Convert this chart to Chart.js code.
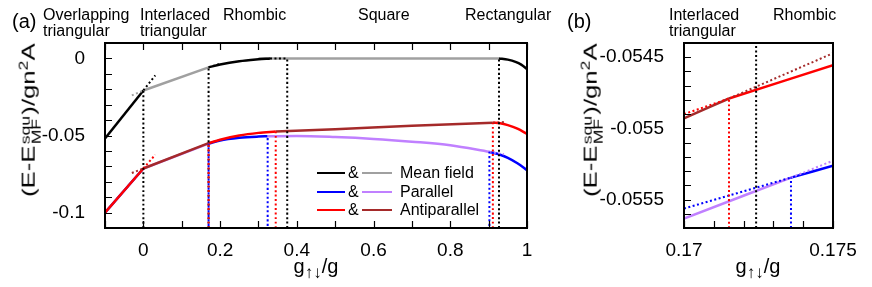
<!DOCTYPE html>
<html>
<head>
<meta charset="utf-8">
<script src="https://cdn.jsdelivr.net/npm/chart.js@4.4.1/dist/chart.umd.min.js"></script>
<style>
  body { margin: 0; background: #fff; }
  #fig { position: relative; width: 872px; height: 287px; overflow: hidden;
         font-family: 'Liberation Sans', Arial, sans-serif; color: #000; }
  #fig canvas { position: absolute; top: 0; }
  .t { position: absolute; font-size: 16px; line-height: 16px; white-space: nowrap; }
  .pl { position: absolute; font-size: 20px; line-height: 20px; }
  .ytl { position: absolute; font-size: 19px; line-height: 20px; white-space: nowrap; }
  .stk { display: inline-flex; flex-direction: column; font-size: 13px; line-height: 11px;
         vertical-align: 5px; margin: 0 1px; }
  .ytl sup { font-size: 13px; }
  .xtl { position: absolute; font-size: 20px; line-height: 20px; white-space: nowrap; transform: translateX(-50%); }
  .xtl sub { font-size: 17px; vertical-align: -5px; }
  .lg { position: absolute; height: 0; border-top: 2.5px solid; }
</style>
</head>
<body>
<div id="fig">
  <canvas id="chartA" width="545" height="287" style="left:0"></canvas>
  <canvas id="chartB" width="312" height="287" style="left:560px"></canvas>

  <div class="pl" style="left:12px;top:11px">(a)</div>
  <div class="t" style="left:43px;top:7px">Overlapping<br>triangular</div>
  <div class="t" style="left:140px;top:7px">Interlaced<br>triangular</div>
  <div class="t" style="left:223px;top:7px">Rhombic</div>
  <div class="t" style="left:358px;top:7px">Square</div>
  <div class="t" style="left:465px;top:7px">Rectangular</div>

  <div class="pl" style="left:567px;top:11px">(b)</div>
  <div class="t" style="left:669px;top:7px">Interlaced<br>triangular</div>
  <div class="t" style="left:773px;top:7px">Rhombic</div>

  <div class="ytl" data-cx="28" data-cy="120">(E-E<span class="stk"><span>squ</span><span>MF</span></span>)/gn<sup>2</sup>A</div>
  <div class="ytl" data-cx="590" data-cy="120">(E-E<span class="stk"><span>squ</span><span>MF</span></span>)/gn<sup>2</sup>A</div>

  <div class="xtl" style="left:316px;top:256px">g<sub>↑↓</sub>/g</div>
  <div class="xtl" style="left:758px;top:256px">g<sub>↑↓</sub>/g</div>

  <!-- legend -->
  <div class="lg" style="left:317px;top:172px;width:28px;border-color:#000"></div>
  <div class="t" style="left:348px;top:165px">&amp;</div>
  <div class="lg" style="left:362px;top:172px;width:30px;border-color:#a0a0a0"></div>
  <div class="t" style="left:400px;top:165px">Mean field</div>

  <div class="lg" style="left:317px;top:191px;width:28px;border-color:#0000ff"></div>
  <div class="t" style="left:348px;top:184px">&amp;</div>
  <div class="lg" style="left:362px;top:191px;width:30px;border-color:#c080ff"></div>
  <div class="t" style="left:400px;top:184px">Parallel</div>

  <div class="lg" style="left:317px;top:209px;width:28px;border-color:#ff0000"></div>
  <div class="t" style="left:348px;top:202px">&amp;</div>
  <div class="lg" style="left:362px;top:209px;width:30px;border-color:#a52a2a"></div>
  <div class="t" style="left:400px;top:202px">Antiparallel</div>
</div>

<script>
// ── tick labels ──
const xLabelsA = [0, 0.2, 0.4, 0.6, 0.8, 1];
const yLabelsA = [0, -0.05, -0.1];
const xLabelsB = [0.17, 0.175];
const yLabelsB = [-0.0545, -0.055, -0.0555];

// ── panel (a): mean field ──
const mfLowX = [-0.1, 0],                    mfLowY = [-0.052, -0.0208];
const mfMidX = [0, 0.17],                    mfMidY = [-0.0208, -0.0058];
const mfCurveX = [0.17, 0.2, 0.25, 0.3, 0.33], mfCurveY = [-0.0058, -0.0040, -0.0019, -0.0006, 0];
const mfFlatX = [0.3, 0.927],                mfFlatY = [0, 0];
const mfEndX = [0.927, 0.95, 0.97, 0.985, 1.0], mfEndY = [0, -0.0008, -0.0022, -0.0040, -0.0068];

// ── panel (a): parallel ──
const parLowX = [-0.1, 0],                   parLowY = [-0.1, -0.0714];
const parMidX = [0, 0.17],                   parMidY = [-0.0714, -0.0553];
const parCurveX = [0.17, 0.2, 0.25, 0.3, 0.324], parCurveY = [-0.0553, -0.0532, -0.0515, -0.0507, -0.0505];
const parFlatX = [0.324, 0.4, 0.5, 0.6, 0.7, 0.8, 0.902];
const parFlatY = [-0.0505, -0.0503, -0.0510, -0.0522, -0.0540, -0.0563, -0.0606];
const parEndX = [0.902, 0.93, 0.95, 0.975, 1.0], parEndY = [-0.0606, -0.0625, -0.0645, -0.0680, -0.0725];

// ── panel (a): antiparallel ──
const antLowX = [-0.1, 0],                   antLowY = [-0.1, -0.0714];
const antMidX = [0, 0.17],                   antMidY = [-0.0714, -0.0550];
const antCurveX = [0.17, 0.2, 0.25, 0.3, 0.345], antCurveY = [-0.0550, -0.0528, -0.0500, -0.0483, -0.0474];
const antFlatX = [0.345, 0.5, 0.7, 0.911],   antFlatY = [-0.0474, -0.0459, -0.0437, -0.0417];
const antEndX = [0.911, 0.93, 0.95, 0.975, 1.0], antEndY = [-0.0417, -0.0421, -0.0433, -0.0456, -0.0490];

// ── panel (a): dotted continuations ──
const extBlk1X = [0, 0.031],      extBlk1Y = [-0.0208, -0.011];
const extBlk2X = [0.17, 0.2],     extBlk2Y = [-0.0058, -0.0035];
const extBlk3X = [0.33, 0.375],   extBlk3Y = [0, 0];
const extGryX = [-0.03, 0],       extGryY = [-0.024, -0.0208];
const extRedX = [0, 0.031],       extRedY = [-0.0714, -0.0625];
const extBrn1X = [-0.03, 0],      extBrn1Y = [-0.0743, -0.0714];
const extBrn2X = [0.911, 0.945],  extBrn2Y = [-0.0417, -0.0412];
const extPurX = [0.902, 0.94],    extPurY = [-0.0606, -0.0622];

// ── panel (a): transition markers (x, top y) ──
const vBlackAX = [0, 0.17, 0.375, 0.927], vBlackAY = [-0.0208, -0.0058, 0, 0];
const vBlueAX = [0.17, 0.324, 0.902],     vBlueAY = [-0.0553, -0.0505, -0.0606];
const vRedAX = [0.17, 0.345, 0.911],      vRedAY = [-0.0550, -0.0474, -0.0417];

// ── panel (b): zoom near g = 0.17 ──
const bBrnX = [0.17, 0.17151],     bBrnY = [-0.05493, -0.05479];
const bRedX = [0.17151, 0.175],    bRedY = [-0.05479, -0.054556];
const bRedDX = [0.17, 0.17151],    bRedDY = [-0.0549, -0.05479];
const bBrnDX = [0.17151, 0.175],   bBrnDY = [-0.05479, -0.054472];
const bPurX = [0.17, 0.17359],     bPurY = [-0.055633, -0.055346];
const bBluX = [0.17359, 0.175],    bBluY = [-0.055346, -0.055262];
const bBluDX = [0.17, 0.17359],    bBluDY = [-0.055563, -0.055346];
const bPurDX = [0.17359, 0.175],   bPurDY = [-0.055346, -0.055227];
const vBlackBX = [0.17242],        vBlackBY = [-0.0544];
const vBlueBX = [0.17359],         vBlueBY = [-0.055346];
const vRedBX = [0.17151],          vRedBY = [-0.05479];

const C = { black: '#000000', gray: '#a0a0a0', blue: '#0000ff', purple: '#c080ff', red: '#ff0000', brown: '#a52a2a' };
const FONT = "'Liberation Sans', Arial, sans-serif";

function line(xs, ys, color, dotted, offset) {
    return {
        data: xs.map((x, i) => ({ x: x, y: ys[i] })),
        borderColor: color,
        borderWidth: dotted ? 2 : 2.5,
        borderDash: dotted ? [2, 2.5] : [],
        borderDashOffset: offset || 0,
        pointRadius: 0,
        fill: false,
        cubicInterpolationMode: 'monotone'
    };
}

function vlines(xs, tops, bottom, color, offset) {
    return xs.map((x, i) => line([x, x], [bottom, tops[i]], color, true, offset));
}

function labeler(list) {
    return function (v) {
        const hit = list.find(l => Math.abs(l - v) < 1e-9);
        return hit === undefined ? '' : String(hit);
    };
}

// inward ticks + box, gnuplot style
const framePlugin = {
    id: 'frame',
    afterDatasetsDraw(chart, args, opts) {
        const { ctx, chartArea: a, scales: { x, y } } = chart;
        ctx.save();
        ctx.strokeStyle = '#000';
        ctx.lineWidth = 1.2;
        ctx.beginPath();
        x.ticks.forEach(t => {
            const px = Math.round(x.getPixelForValue(t.value)) + 0.5;
            ctx.moveTo(px, a.bottom); ctx.lineTo(px, a.bottom - 7);
            if (opts.top) { ctx.moveTo(px, a.top); ctx.lineTo(px, a.top + 7); }
        });
        y.ticks.forEach(t => {
            const py = Math.round(y.getPixelForValue(t.value)) + 0.5;
            ctx.moveTo(a.left, py); ctx.lineTo(a.left + 7, py);
        });
        ctx.stroke();
        ctx.lineWidth = 2;
        ctx.strokeRect(a.left, a.top, a.right - a.left, a.bottom - a.top);
        ctx.restore();
    }
};

function makeChart(id, datasets, sx, sy, yWidth, padRight, topTicks) {
    return new Chart(document.getElementById(id), {
        type: 'line',
        data: { datasets: datasets.reverse() },
        plugins: [framePlugin],
        options: {
            responsive: false,
            animation: false,
            devicePixelRatio: 1,
            events: [],
            layout: { padding: { left: 0, top: 43, right: padRight, bottom: 0 } },
            scales: {
                x: {
                    type: 'linear', min: sx.min, max: sx.max,
                    grid: { display: false }, border: { display: false },
                    afterFit: s => { s.height = 59; },
                    ticks: { stepSize: sx.step, autoSkip: false, maxRotation: 0, padding: 3,
                             color: '#000', font: { family: FONT, size: 19 }, callback: labeler(sx.labels) }
                },
                y: {
                    type: 'linear', min: sy.min, max: sy.max,
                    grid: { display: false }, border: { display: false },
                    afterFit: s => { s.width = yWidth; },
                    ticks: { stepSize: sy.step, autoSkip: false, padding: 12,
                             color: '#000', font: { family: FONT, size: 19 }, callback: labeler(sy.labels) }
                }
            },
            plugins: { legend: { display: false }, tooltip: { enabled: false }, frame: { top: topTicks } }
        }
    });
}

// back-to-front
const yMinA = -0.11;
const dsA = [
    line(parLowX, parLowY, C.blue), line(parMidX, parMidY, C.purple),
    line(parCurveX, parCurveY, C.blue), line(parFlatX, parFlatY, C.purple), line(parEndX, parEndY, C.blue),
    line(antLowX, antLowY, C.red), line(antMidX, antMidY, C.brown),
    line(antCurveX, antCurveY, C.red), line(antFlatX, antFlatY, C.brown), line(antEndX, antEndY, C.red),
    line(mfLowX, mfLowY, C.black), line(mfMidX, mfMidY, C.gray),
    line(mfFlatX, mfFlatY, C.gray), line(mfCurveX, mfCurveY, C.black), line(mfEndX, mfEndY, C.black),
    line(extBlk1X, extBlk1Y, C.black, true), line(extBlk2X, extBlk2Y, C.black, true),
    line(extBlk3X, extBlk3Y, C.black, true), line(extGryX, extGryY, C.gray, true),
    line(extRedX, extRedY, C.red, true), line(extBrn1X, extBrn1Y, C.brown, true),
    line(extBrn2X, extBrn2Y, C.brown, true), line(extPurX, extPurY, C.purple, true),
    ...vlines(vBlackAX, vBlackAY, yMinA, C.black),
    ...vlines(vRedAX, vRedAY, yMinA, C.red),
    ...vlines(vBlueAX, vBlueAY, yMinA, C.blue, 2.25)
];

const yMinB = -0.0557;
const dsB = [
    line(bPurX, bPurY, C.purple), line(bBluX, bBluY, C.blue),
    line(bBluDX, bBluDY, C.blue, true), line(bPurDX, bPurDY, C.purple, true),
    line(bBrnX, bBrnY, C.brown), line(bRedX, bRedY, C.red),
    line(bRedDX, bRedDY, C.red, true), line(bBrnDX, bBrnDY, C.brown, true),
    ...vlines(vBlackBX, vBlackBY, yMinB, C.black),
    ...vlines(vBlueBX, vBlueBY, yMinB, C.blue),
    ...vlines(vRedBX, vRedBY, yMinB, C.red)
];

makeChart('chartA', dsA,
    { min: -0.1, max: 1, step: 0.1, labels: xLabelsA },
    { min: yMinA, max: 0.01, step: 0.01, labels: yLabelsA },
    105, 18, true);

makeChart('chartB', dsB,
    { min: 0.17, max: 0.175, step: 0.001, labels: xLabelsB },
    { min: yMinB, max: -0.0544, step: 0.0001, labels: yLabelsB },
    124, 39, false);

// rotated y titles, stretched along the text to the reference length
document.querySelectorAll('.ytl').forEach(el => {
    const w = el.offsetWidth, h = el.offsetHeight;
    const k = 154 / w;
    el.style.left = (+el.dataset.cx - w / 2) + 'px';
    el.style.top = (+el.dataset.cy - h / 2) + 'px';
    el.style.transform = 'rotate(-90deg) scaleX(' + k.toFixed(3) + ')';
});
</script>
</body>
</html>
